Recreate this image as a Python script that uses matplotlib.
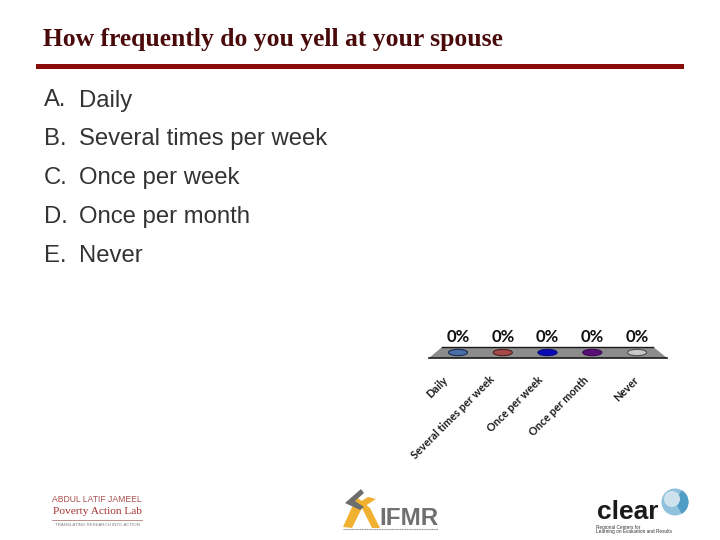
import matplotlib
matplotlib.use("Agg")
import matplotlib.pyplot as plt
from matplotlib.patches import Polygon, Circle, Rectangle, Wedge

title = "How frequently do you yell at your spouse"
letters = ["A.", "B.", "C.", "D.", "E."]
categories = ["Daily", "Several times per week", "Once per week", "Once per month", "Never"]
values = [0, 0, 0, 0, 0]
colors = ["#4a6fa8", "#a84a4a", "#0a0ab4", "#5a0f78", "#c8c8c8"]
edges = ["#1c2c50", "#502020", "#0a0a80", "#3c0a50", "#505050"]

W, H = 720, 540
fig = plt.figure(figsize=(W / 100, H / 100), dpi=100, facecolor="white")

# page layer in pixel coordinates
bg = fig.add_axes([0, 0, 1, 1])
bg.set_xlim(0, W)
bg.set_ylim(H, 0)
bg.axis("off")

bg.text(43, 39.5, title, family="Liberation Serif", weight="bold", fontsize=18.45,
        color="#4a0a0a", va="center", ha="left")
bg.add_patch(Rectangle((36, 63.5), 648, 5, color="#8b0a0a", lw=0))
for i, (l, c) in enumerate(zip(letters, categories)):
    y = 100.5 + i * 38.8
    bg.text(44, y, l, family="Liberation Sans", fontsize=17.2, color="#333333", va="center")
    bg.text(79, y, c, family="Liberation Sans", fontsize=17.2, color="#333333", va="center")

# Poverty Action Lab logo
bg.text(97, 500, "ABDUL LATIF JAMEEL", family="Liberation Sans", fontsize=6.2,
        color="#a85050", ha="center", va="center")
bg.text(97, 511.5, "Poverty Action Lab", family="Liberation Serif", fontsize=8.2,
        color="#a03030", ha="center", va="center")
bg.plot([52, 142], [520, 520], color="#b08080", lw=0.6)
bg.text(97, 525, "TRANSLATING RESEARCH INTO ACTION", family="Liberation Sans", fontsize=3.2,
        color="#808080", ha="center", va="center")

# IFMR logo
bg.add_patch(Polygon([(343, 527), (352, 507), (368, 497), (376, 499), (362, 508),
                      (352, 528)], color="#f0b030", lw=0))
bg.add_patch(Polygon([(352, 503), (362, 508), (372, 528), (380, 528), (370, 508),
                      (358, 498)], color="#f0b030", lw=0))
bg.add_patch(Polygon([(345, 503), (361, 489), (364, 493), (355, 501), (364, 507), (360, 510)],
                     color="#6e6e6e", lw=0))
bg.text(409, 518.5, "IFMR", family="Liberation Sans", weight="bold", fontsize=17.5,
        color="#707070", ha="center", va="center")
bg.plot([343, 438], [529, 529], color="#909090", lw=0.8, ls=(0, (1, 0.5)))

# CLEAR logo
bg.text(628, 512, "clear", family="Liberation Sans", weight="bold", fontsize=19,
        color="#1a1a1a", ha="center", va="center")
bg.add_patch(Circle((675, 502), 13.5, color="#8fc0dc", lw=0))
bg.add_patch(Wedge((675, 502), 13.5, 300, 60, color="#4f9cc4", lw=0))
bg.add_patch(Circle((672, 499), 8, color="#cfe3ee", lw=0))
bg.text(596, 527, "Regional Centers for", family="Liberation Sans", fontsize=3.4,
        color="#333333", va="center")
bg.text(596, 532, "Learning on Evaluation and Results", family="Liberation Sans", fontsize=3.4,
        color="#333333", va="center")

# chart: floor spans 429..667 px horizontally and 347..358 px vertically
ax = fig.add_axes([429 / W, 1 - 358 / H, (667 - 429) / W, 11 / H])
ax.set_xlim(-0.648, 4.67)
ax.set_ylim(-1, 1)
ax.axis("off")
ax.add_patch(Polygon([(0.055, 1), (0.943, 1), (1, 0), (0, 0)], closed=True,
                     transform=ax.transAxes, facecolor="#8c8c8c", edgecolor="none",
                     clip_on=False))
ax.plot([0.055, 0.943], [1, 1], color="#1a1a1a", lw=1, transform=ax.transAxes, clip_on=False)
ax.plot([0, 1], [0, 0], color="#1a1a1a", lw=1.2, transform=ax.transAxes, clip_on=False)
xs = list(range(len(categories)))
ax.scatter(xs, values, s=190, c=colors, edgecolors=edges, linewidths=0.8, zorder=3,
           marker=matplotlib.markers.MarkerStyle("o", transform=matplotlib.transforms.Affine2D().scale(1, 0.33)))
label_shift_px = [-9, -7, -3, -2, 3]
for x, v, c, dx in zip(xs, values, categories, label_shift_px):
    ax.annotate(f"{v}%", (x, v), xytext=(0, 11.5), textcoords="offset points",
                ha="center", va="center", family="Lato", weight="bold", fontsize=12,
                color="#111111", annotation_clip=False)
    ax.annotate(c, (x, v), xytext=(-5 + dx * 0.72, -15.5), textcoords="offset points",
                ha="right", va="top", rotation=45, rotation_mode="anchor",
                family="Lato", weight="bold", fontsize=7.8, color="#1a1a1a",
                annotation_clip=False)

fig.savefig("out.png", dpi=100)
